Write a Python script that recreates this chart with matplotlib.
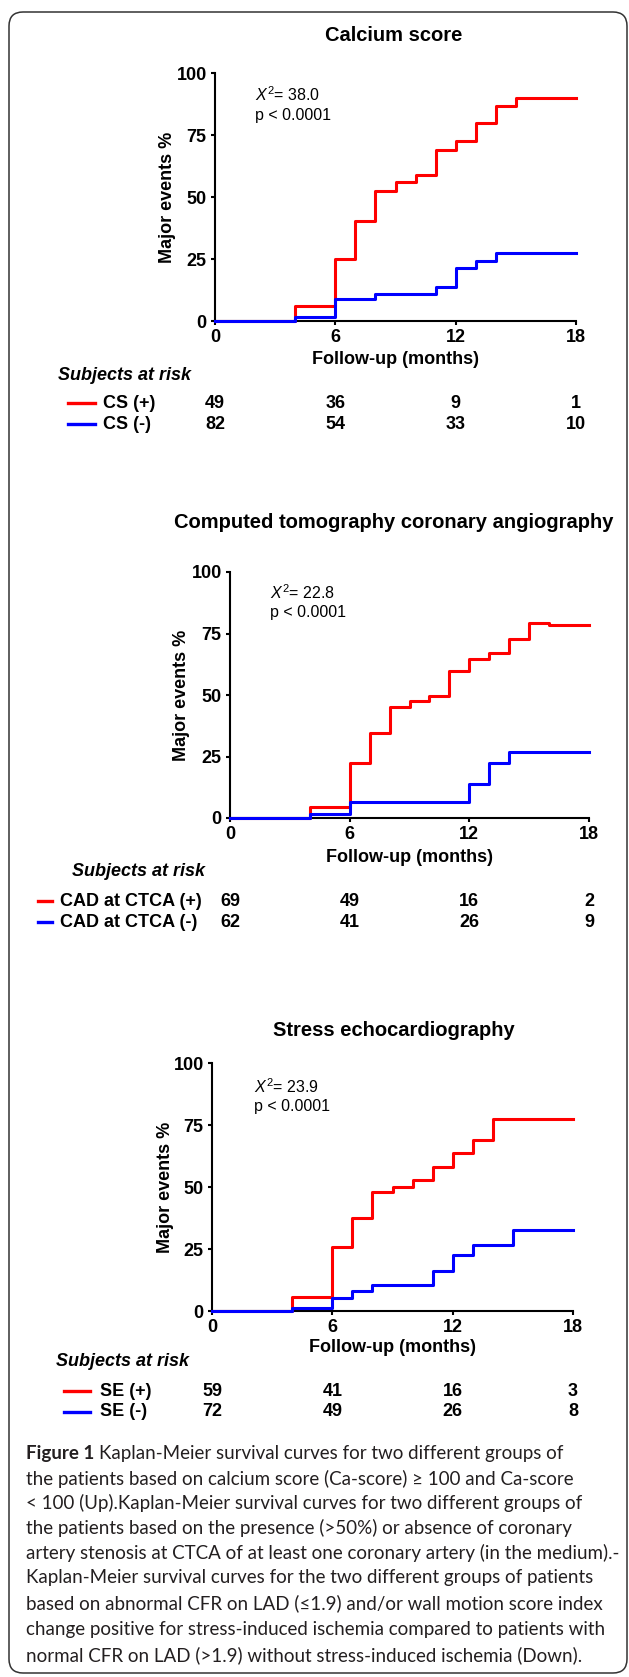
import matplotlib
matplotlib.use("Agg")
import matplotlib.pyplot as plt
import matplotlib.transforms as mtrans
from matplotlib.lines import Line2D
from matplotlib.patches import FancyBboxPatch

plt.rcParams['font.family'] = ['Liberation Sans', 'DejaVu Sans']
plt.rcParams['mathtext.fontset'] = 'custom'
plt.rcParams['mathtext.rm'] = 'Liberation Sans'
plt.rcParams['mathtext.it'] = 'Liberation Sans:italic'

# ---- data ----
x_ticks = [0, 6, 12, 18]
y_ticks = [0, 25, 50, 75, 100]

# calcium score
cs_pos_t = [0, 4, 6, 7, 8, 9, 10, 11, 12, 13, 14, 15, 18]
cs_pos_v = [0, 6, 25, 40.5, 52.5, 56, 59, 69, 72.5, 80, 86.5, 90, 90]
cs_neg_t = [0, 4, 6, 8, 11, 12, 13, 14, 18]
cs_neg_v = [0, 1.5, 8.7, 11, 13.7, 21.4, 24.1, 27.5, 27.5]
cs_pos_risk = [49, 36, 9, 1]
cs_neg_risk = [82, 54, 33, 10]

# CTCA
ct_pos_t = [0, 4, 6, 7, 8, 9, 10, 11, 12, 13, 14, 15, 16, 18]
ct_pos_v = [0, 4.5, 22.3, 34.5, 45, 47.6, 49.7, 59.7, 64.5, 66.9, 72.8, 79.2, 78.5, 78.5]
ct_neg_t = [0, 4, 6, 12, 13, 14, 18]
ct_neg_v = [0, 1.8, 6.5, 13.8, 22.3, 27, 27]
ct_pos_risk = [69, 49, 16, 2]
ct_neg_risk = [62, 41, 26, 9]

# stress echo
se_pos_t = [0, 4, 6, 7, 8, 9, 10, 11, 12, 13, 14, 18]
se_pos_v = [0, 5.7, 26, 37.4, 48.1, 50, 52.7, 58.2, 63.6, 69, 77.6, 77.6]
se_neg_t = [0, 4, 6, 7, 8, 11, 12, 13, 15, 18]
se_neg_v = [0, 1.4, 5.4, 8.1, 10.5, 16.2, 22.7, 26.6, 32.8, 32.8]
se_pos_risk = [59, 41, 16, 3]
se_neg_risk = [72, 49, 26, 8]

titles = ["Calcium score", "Computed tomography coronary angiography", "Stress echocardiography"]
chi2 = ["38.0", "22.8", "23.9"]
pos_labels = ["CS (+)", "CAD at CTCA (+)", "SE (+)"]
neg_labels = ["CS (-)", "CAD at CTCA (-)", "SE (-)"]

caption = [
    "Kaplan-Meier survival curves for two different groups of",
    "the patients based on calcium score (Ca-score) \u2265 100 and Ca-score",
    "< 100 (Up).Kaplan-Meier survival curves for two different groups of",
    "the patients based on the presence (>50%) or absence of coronary",
    "artery stenosis at CTCA of at least one coronary artery (in the medium).-",
    "Kaplan-Meier survival curves for the two different groups of patients",
    "based on abnormal CFR on LAD (\u22641.9) and/or wall motion score index",
    "change positive for stress-induced ischemia compared to patients with",
    "normal CFR on LAD (>1.9) without stress-induced ischemia (Down).",
]

W, H = 629, 1677
fig = plt.figure(figsize=(W / 100, H / 100), dpi=100)

# background axes in pixel units
bg = fig.add_axes([0, 0, 1, 1])
bg.set_xlim(0, W)
bg.set_ylim(H, 0)
bg.axis('off')
bg.add_patch(FancyBboxPatch((9, 12), 618, 1661, boxstyle='round,pad=0,rounding_size=14',
                            fill=False, ec='#333333', lw=1.1))

# pixel layout of each panel: axes box, texts
layout = [
    dict(ax=(215, 576, 73, 321), title_y=35, st=(255, 95, 115), xl_y=360, yl_x=167,
         sar=(58, 375), rows=(403, 424), leg=(68, 95), lab_x=103),
    dict(ax=(230, 589, 572, 818), title_y=523, st=(270, 593, 613), xl_y=858, yl_x=182,
         sar=(72, 871), rows=(901, 922), leg=(38, 52), lab_x=60),
    dict(ax=(212, 573, 1063, 1311), title_y=1030, st=(254, 1087, 1106), xl_y=1348, yl_x=165,
         sar=(56, 1361), rows=(1391, 1412), leg=(64, 90), lab_x=100),
]
curves = [
    (cs_pos_t, cs_pos_v, cs_neg_t, cs_neg_v, cs_pos_risk, cs_neg_risk),
    (ct_pos_t, ct_pos_v, ct_neg_t, ct_neg_v, ct_pos_risk, ct_neg_risk),
    (se_pos_t, se_pos_v, se_neg_t, se_neg_v, se_pos_risk, se_neg_risk),
]

for i in range(3):
    L = layout[i]
    pt, pv, nt, nv, prisk, nrisk = curves[i]
    x0, x1, yt, yb = L['ax']
    ax = fig.add_axes([x0 / W, 1 - yb / H, (x1 - x0) / W, (yb - yt) / H])
    ax.step(pt, pv, where='post', color='#ff0000', lw=2.2, clip_on=False, zorder=3)
    ax.step(nt, nv, where='post', color='#0000ff', lw=2.2, clip_on=False, zorder=4)
    ax.set_xlim(0, 18)
    ax.set_ylim(0, 100)
    ax.set_xticks(x_ticks)
    ax.set_yticks(y_ticks)
    ax.spines['top'].set_visible(False)
    ax.spines['right'].set_visible(False)
    ax.spines['left'].set_linewidth(1.5)
    ax.spines['bottom'].set_linewidth(1.5)
    ax.patch.set_alpha(0)
    ax.tick_params(length=3, width=1.5, labelsize=13, pad=3)
    for lab in ax.get_xticklabels() + ax.get_yticklabels():
        lab.set_fontweight('bold')

    ax.set_xlabel("Follow-up (months)", fontsize=13, fontweight='bold', va='center')
    ax.xaxis.set_label_coords(0.5, (yb - L['xl_y']) / (yb - yt))
    ax.set_ylabel("Major events %", fontsize=13, fontweight='bold', va='center', ha='center')
    ax.yaxis.set_label_coords((L['yl_x'] - x0) / (x1 - x0), 0.5)

    bg.text(394, L['title_y'], titles[i], fontsize=14.5, fontweight='bold', ha='center', va='center')
    sx, sy1, sy2 = L['st']
    bg.text(sx, sy1, r"$X^2$= " + chi2[i], fontsize=11.5, ha='left', va='center')
    bg.text(sx, sy2, "p < 0.0001", fontsize=11.5, ha='left', va='center')

    bg.text(L['sar'][0], L['sar'][1], "Subjects at risk", fontsize=13, fontweight='bold',
            fontstyle='italic', ha='left', va='center')
    tr = mtrans.blended_transform_factory(ax.transData, bg.transData)
    for row_y, lab, col, risk in [(L['rows'][0], pos_labels[i], '#ff0000', prisk),
                                  (L['rows'][1], neg_labels[i], '#0000ff', nrisk)]:
        bg.add_line(Line2D([L['leg'][0], L['leg'][1]], [row_y, row_y], color=col, lw=2.4))
        bg.text(L['lab_x'], row_y, lab, fontsize=13, fontweight='bold', ha='left', va='center')
        for xv, n in zip(x_ticks, risk):
            bg.text(xv, row_y, str(n), transform=tr, fontsize=13, fontweight='bold',
                    ha='center', va='center')

# caption: size the font so the longest line spans the same width as in the figure
cap_y = [1453, 1479, 1503, 1528, 1553, 1578, 1603, 1629, 1655]
cap_col = '#231f20'
probe = bg.text(26, 0, caption[4], fontsize=10, family='Lato')
fig.canvas.draw()
pw = probe.get_window_extent().width
probe.remove()
cap_fs = 10 * (620 - 26) / pw

t0 = bg.text(26, cap_y[0], "Figure 1", fontsize=cap_fs, fontweight='bold', family='Lato',
             color=cap_col, ha='left', va='center')
fig.canvas.draw()
bb = t0.get_window_extent()
bg.text(bb.x1 + 5, cap_y[0], caption[0], fontsize=cap_fs, family='Lato', color=cap_col,
        ha='left', va='center')
for yy, line in zip(cap_y[1:], caption[1:]):
    bg.text(26, yy, line, fontsize=cap_fs, family='Lato', color=cap_col, ha='left', va='center')

fig.savefig("out.png", dpi=100)
